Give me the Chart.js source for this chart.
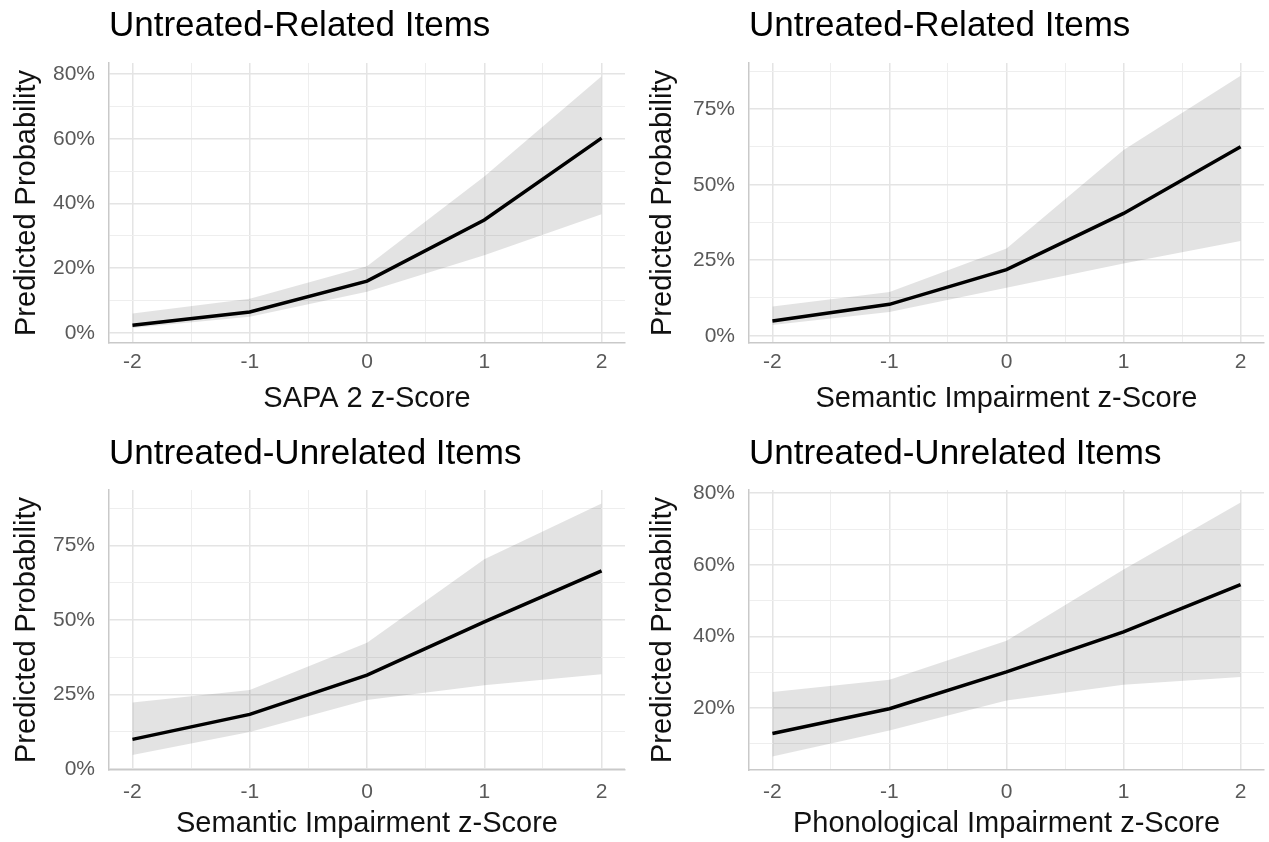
<!DOCTYPE html>
<html>
<head>
<meta charset="utf-8">
<script src="https://cdn.jsdelivr.net/npm/chart.js@4.4.1/dist/chart.umd.min.js"></script>
<style>
  html, body { margin: 0; padding: 0; background: #ffffff; }
  #wrap { position: relative; width: 1269px; height: 842px; overflow: hidden; }
  canvas { position: absolute; }
</style>
</head>
<body>
<div id="wrap">
  <canvas id="c1" width="636" height="421" style="left:0px;top:0px"></canvas>
  <canvas id="c2" width="633" height="421" style="left:636px;top:0px"></canvas>
  <canvas id="c3" width="636" height="421" style="left:0px;top:421px"></canvas>
  <canvas id="c4" width="633" height="421" style="left:636px;top:421px"></canvas>
</div>
<script>
// ---- data (percent) ----
const xValues = [-2, -1, 0, 1, 2];
const xMajorTicks = [-2, -1, 0, 1, 2];
const xMinorTicks = [-1.5, -0.5, 0.5, 1.5];

const titles = ["Untreated-Related Items", "Untreated-Related Items",
                "Untreated-Unrelated Items", "Untreated-Unrelated Items"];
const xTitles = ["SAPA 2 z-Score", "Semantic Impairment z-Score",
                 "Semantic Impairment z-Score", "Phonological Impairment z-Score"];
const yTitle = "Predicted Probability";

// Panel 1: SAPA 2 (related)
const p1Fit   = [2.4, 6.5, 16.0, 34.9, 60.2];
const p1Upper = [6.0, 10.6, 20.6, 48.3, 79.3];
const p1Lower = [1.5, 5.0, 12.7, 24.0, 36.7];
const p1YMajor = [0, 20, 40, 60, 80];
const p1YMinor = [10, 30, 50, 70];

// Panel 2: Semantic (related)
const p2Fit   = [4.9, 10.4, 21.9, 40.5, 62.6];
const p2Upper = [9.7, 14.5, 28.9, 61.5, 86.1];
const p2Lower = [3.6, 7.9, 15.9, 23.9, 31.4];
const p2YMajor = [0, 25, 50, 75];
const p2YMinor = [12.5, 37.5, 62.5, 87.5];

// Panel 3: Semantic (unrelated)
const p3Fit   = [9.9, 18.3, 31.5, 49.4, 66.5];
const p3Upper = [22.3, 26.5, 42.4, 70.4, 89.2];
const p3Lower = [4.6, 12.4, 23.1, 28.1, 31.8];
const p3YMajor = [0, 25, 50, 75];
const p3YMinor = [12.5, 37.5, 62.5, 87.5];

// Panel 4: Phonological (unrelated)
const p4Fit   = [12.9, 19.8, 30.1, 41.3, 54.5];
const p4Upper = [24.5, 27.9, 38.8, 58.7, 77.4];
const p4Lower = [6.5, 13.7, 22.1, 26.5, 28.7];
const p4YMajor = [20, 40, 60, 80];
const p4YMinor = [10, 30, 50, 70];

// ---- style / layout ----
const FONT = "'Liberation Sans', Arial, Helvetica, sans-serif";
const GRID_MAJOR = '#e4e4e4';
const GRID_MINOR = '#eeeeee';
const AXIS_LINE = '#c9c9c9';
const RIBBON = 'rgba(0,0,0,0.11)';

function pts(vals) { return xValues.map((x, i) => ({ x: x, y: vals[i] })); }

function makeChart(id, cfg) {
  const yMinorSet = new Set(cfg.yMinor);
  const xMinorSet = new Set(xMinorTicks);
  const ctx = document.getElementById(id).getContext('2d');
  return new Chart(ctx, {
    type: 'line',
    data: {
      datasets: [
        { label: 'fit', data: pts(cfg.fit), borderColor: '#000000', borderWidth: 3.5,
          pointRadius: 0, fill: false, tension: 0, order: 0 },
        { label: 'upper', data: pts(cfg.upper), borderWidth: 0, borderColor: 'rgba(0,0,0,0)',
          backgroundColor: RIBBON, pointRadius: 0, fill: '+1', tension: 0, order: 1 },
        { label: 'lower', data: pts(cfg.lower), borderWidth: 0, borderColor: 'rgba(0,0,0,0)',
          pointRadius: 0, fill: false, tension: 0, order: 2 }
      ]
    },
    options: {
      responsive: false,
      animation: false,
      events: [],
      layout: { padding: { left: 0, right: cfg.padRight, top: 0, bottom: 0 } },
      plugins: {
        legend: { display: false },
        tooltip: { enabled: false },
        title: {
          display: true, text: cfg.title, align: 'start', fullSize: false,
          color: '#000000',
          font: { family: FONT, size: 35, weight: 'normal', lineHeight: 1.2 },
          padding: { top: cfg.titlePadTop, bottom: cfg.titlePadBottom }
        }
      },
      scales: {
        x: {
          type: 'linear', min: -2.2, max: 2.2,
          afterBuildTicks: (s) => {
            s.ticks = xMajorTicks.concat(xMinorTicks).sort((a, b) => a - b).map(v => ({ value: v }));
          },
          afterFit: (s) => { s.height = cfg.xHeight; },
          ticks: {
            includeBounds: false, autoSkip: false, maxRotation: 0,
            color: '#595959', padding: cfg.xTickPad,
            font: { family: FONT, size: 21, lineHeight: 1.2 },
            callback: (v) => (xMinorSet.has(v) ? '' : String(v))
          },
          grid: {
            drawTicks: false,
            color: (c) => (c.tick && xMinorSet.has(c.tick.value) ? GRID_MINOR : GRID_MAJOR),
            lineWidth: (c) => (c.tick && xMinorSet.has(c.tick.value) ? 1 : 1.5)
          },
          border: { display: true, color: AXIS_LINE, width: 1.5 },
          title: {
            display: true, text: cfg.xTitle, color: '#111111',
            font: { family: FONT, size: 29, lineHeight: 1.2 },
            padding: { top: 0, bottom: cfg.xTitlePadBottom }
          }
        },
        y: {
          type: 'linear', min: cfg.yMin, max: cfg.yMax,
          afterBuildTicks: (s) => {
            s.ticks = cfg.yMajor.concat(cfg.yMinor).sort((a, b) => a - b).map(v => ({ value: v }));
          },
          afterFit: (s) => { s.width = cfg.yWidth; },
          ticks: {
            includeBounds: false, autoSkip: false,
            color: '#595959', padding: 14,
            font: { family: FONT, size: 21, lineHeight: 1.2 },
            callback: (v) => (yMinorSet.has(v) ? '' : v + '%')
          },
          grid: {
            drawTicks: false,
            color: (c) => (c.tick && yMinorSet.has(c.tick.value) ? GRID_MINOR : GRID_MAJOR),
            lineWidth: (c) => (c.tick && yMinorSet.has(c.tick.value) ? 1 : 1.5)
          },
          border: { display: true, color: AXIS_LINE, width: 1.5 },
          title: {
            display: true, text: yTitle, color: '#111111',
            font: { family: FONT, size: 29, lineHeight: 1.2 },
            padding: { top: 10, bottom: 0 }
          }
        }
      }
    }
  });
}

makeChart('c1', { title: titles[0], xTitle: xTitles[0], fit: p1Fit, upper: p1Upper, lower: p1Lower,
  yMajor: p1YMajor, yMinor: p1YMinor, yMin: -3.1, yMax: 83.4,
  yWidth: 109, padRight: 11, xHeight: 78, titlePadTop: 5, titlePadBottom: 16,
  xTickPad: 7, xTitlePadBottom: 5 });
makeChart('c2', { title: titles[1], xTitle: xTitles[1], fit: p2Fit, upper: p2Upper, lower: p2Lower,
  yMajor: p2YMajor, yMinor: p2YMinor, yMin: -2.4, yMax: 90.3,
  yWidth: 113, padRight: 5, xHeight: 78, titlePadTop: 5, titlePadBottom: 16,
  xTickPad: 7, xTitlePadBottom: 5 });
makeChart('c3', { title: titles[2], xTitle: xTitles[2], fit: p3Fit, upper: p3Upper, lower: p3Lower,
  yMajor: p3YMajor, yMinor: p3YMinor, yMin: -0.4, yMax: 93.7,
  yWidth: 109, padRight: 11, xHeight: 72, titlePadTop: 12, titlePadBottom: 15,
  xTickPad: 10, xTitlePadBottom: 1 });
makeChart('c4', { title: titles[3], xTitle: xTitles[3], fit: p4Fit, upper: p4Upper, lower: p4Lower,
  yMajor: p4YMajor, yMinor: p4YMinor, yMin: 2.7, yMax: 80.9,
  yWidth: 113, padRight: 5, xHeight: 72, titlePadTop: 12, titlePadBottom: 15,
  xTickPad: 10, xTitlePadBottom: 1 });
</script>
</body>
</html>
